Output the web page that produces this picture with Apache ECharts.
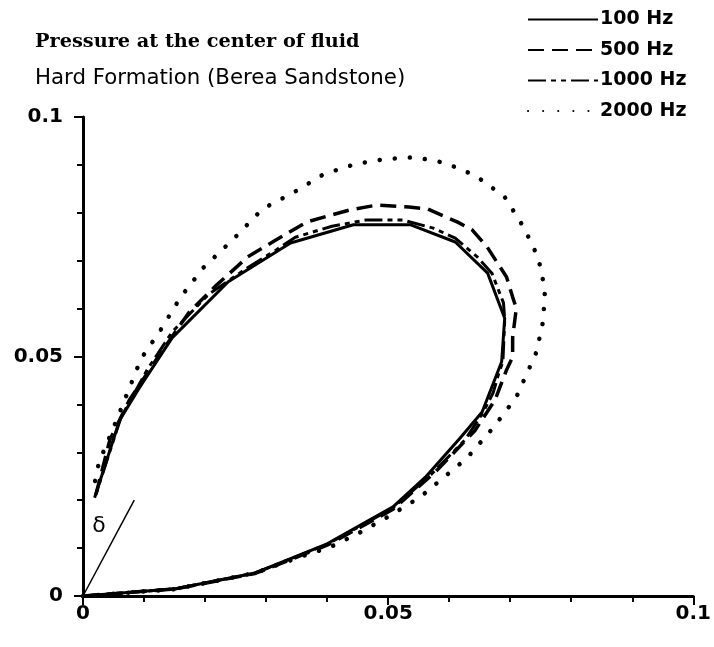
<!DOCTYPE html>
<html>
<head>
<meta charset="utf-8">
<script src="https://cdn.jsdelivr.net/npm/echarts@6/dist/echarts.min.js"></script>
<style>html,body{margin:0;padding:0;background:#fff}#c{width:714px;height:647px}</style>
</head>
<body>
<div id="c"></div>
<script>
var titleText = 'Pressure at the center of fluid';
var subtitleText = 'Hard Formation (Berea Sandstone)';
var seriesNames = ['100 Hz', '500 Hz', '1000 Hz', '2000 Hz'];
var xTicks = [0, 0.05, 0.1];
var yTicks = [0, 0.05, 0.1];

var hz100 = [
  [0,0],[0.0152,0.0015],[0.0282,0.0048],[0.040,0.0109],[0.0508,0.0186],[0.0561,0.0248],
  [0.0618,0.0330],[0.0654,0.0384],[0.0686,0.0489],[0.0691,0.0580],[0.0663,0.0674],
  [0.0610,0.0739],[0.0537,0.0775],[0.0443,0.0775],[0.0340,0.0737],[0.0238,0.0656],
  [0.0146,0.0539],[0.0092,0.0434],[0.0060,0.0367],[0.0019,0.0205]
];
var hz500 = [
  [0,0],[0.0152,0.0015],[0.0282,0.0047],[0.040,0.0106],[0.0508,0.0181],[0.0578,0.0260],
  [0.0642,0.0345],[0.0675,0.0409],[0.0694,0.0472],[0.0704,0.0499],[0.0704,0.0539],
  [0.0710,0.0601],[0.0704,0.0624],[0.0694,0.0666],[0.0662,0.0729],[0.0638,0.0764],
  [0.0613,0.0781],[0.0565,0.0808],[0.0534,0.0812],[0.0481,0.0816],[0.0437,0.0806],
  [0.0367,0.0781],[0.0316,0.0743],[0.0270,0.0708],[0.0217,0.0647],[0.0173,0.0591],
  [0.0125,0.0503],[0.0076,0.0409],[0.0044,0.0326],[0.0021,0.0211]
];
var hz1000 = [
  [0,0],[0.0152,0.0015],[0.0282,0.0048],[0.040,0.0108],[0.0508,0.0184],[0.0570,0.0253],
  [0.0626,0.0326],[0.0655,0.0382],[0.0672,0.0424],[0.0683,0.0472],[0.0688,0.0489],
  [0.0691,0.0576],[0.0689,0.0612],[0.0670,0.0674],[0.0646,0.0708],[0.0610,0.0747],
  [0.0574,0.0768],[0.0524,0.0785],[0.0464,0.0785],[0.0408,0.0772],[0.0348,0.0749],
  [0.0316,0.0722],[0.0267,0.0683],[0.0206,0.0630],[0.0146,0.0551],[0.0105,0.0472],
  [0.0062,0.0372],[0.0020,0.0208]
];
var hz2000 = [
  [0,0],[0.0150,0.0014],[0.0282,0.0048],[0.0354,0.0081],[0.0405,0.0102],[0.0453,0.0132],
  [0.0502,0.0167],[0.0553,0.0207],[0.0629,0.0288],[0.0672,0.0351],[0.0710,0.0415],
  [0.0743,0.0509],[0.0754,0.0574],[0.0757,0.0639],[0.0746,0.0706],[0.0723,0.0768],
  [0.0691,0.0833],[0.0644,0.0877],[0.0594,0.0904],[0.0544,0.0916],[0.0494,0.0912],
  [0.0447,0.0902],[0.0395,0.0881],[0.0346,0.0843],[0.0294,0.0808],[0.0248,0.0747],
  [0.0197,0.0685],[0.0160,0.0624],[0.0128,0.0557],[0.0095,0.0495],[0.0055,0.0367],
  [0.0026,0.0278],[0.0015,0.0210]
];
var deltaLine = [[0,0],[0.0084,0.0200]];
var deltaLabelPos = [0.0026,0.0146];
var deltaText = 'δ';

var chart = echarts.init(document.getElementById('c'), null, {renderer:'canvas'});
var labelStyle = {color:'#000', fontFamily:'DejaVu Sans', fontWeight:'bold', fontSize:20,
  formatter:function(v){ return String(+v.toFixed(2)); }};
var axisCommon = {
  type:'value', min:0, max:0.1, interval:0.05,
  axisLine:{show:true, onZero:false, lineStyle:{color:'#000', width:3}},
  axisTick:{show:true, inside:false, length:9, lineStyle:{color:'#000', width:2}},
  minorTick:{show:true, splitNumber:5, length:6, lineStyle:{color:'#000', width:2}},
  splitLine:{show:false}
};
function lineSeries(name, data, type, width, cap){
  return {
    name:name, type:'line', data:data, symbol:'none', showSymbol:false, smooth:false,
    clip:false, animation:false,
    itemStyle:{color:'#000'},
    lineStyle:{color:'#000', width:width, type:type, cap:cap||'butt'}
  };
}
chart.setOption({
  animation:false,
  backgroundColor:'#fff',
  title:[
    {text:titleText, left:30, top:27, textStyle:{fontFamily:'DejaVu Serif', fontWeight:'bold', fontSize:19.3, color:'#000'}},
    {text:subtitleText, left:30, top:63, textStyle:{fontFamily:'DejaVu Sans', fontWeight:'normal', fontSize:21.3, color:'#000'}}
  ],
  legend:{
    orient:'vertical', left:522, top:5, itemWidth:70, itemHeight:20, itemGap:11.5,
    data:seriesNames,
    itemStyle:{opacity:0},
    textStyle:{fontFamily:'DejaVu Sans', fontSize:19, fontWeight:'bold', color:'#000', padding:[0,0,0,-3]},
    selectedMode:false
  },
  grid:{left:83, right:13, top:117, bottom:51, containLabel:false},
  xAxis:Object.assign({}, axisCommon, {axisLabel:Object.assign({}, labelStyle, {margin:8})}),
  yAxis:Object.assign({}, axisCommon, {axisLabel:Object.assign({}, labelStyle, {margin:20})}),
  series:[
    lineSeries(seriesNames[0], hz100, 'solid', 3),
    lineSeries(seriesNames[1], hz500, [16,8], 3.5),
    lineSeries(seriesNames[2], hz1000, [18,5,5,5,5,5], 3),
    lineSeries(seriesNames[3], hz2000, [0.1,15], 4.5, 'round'),
    {type:'line', data:deltaLine, symbol:'none', lineStyle:{color:'#000', width:1.5}, animation:false, silent:true}
  ]
});
var p = chart.convertToPixel({gridIndex:0}, deltaLabelPos);
chart.setOption({
  graphic:[{type:'text', x:p[0], y:p[1], silent:true,
    style:{text:deltaText, fill:'#000', font:'22px "DejaVu Sans"', textAlign:'center', textVerticalAlign:'middle'}}]
});
</script>
</body>
</html>
